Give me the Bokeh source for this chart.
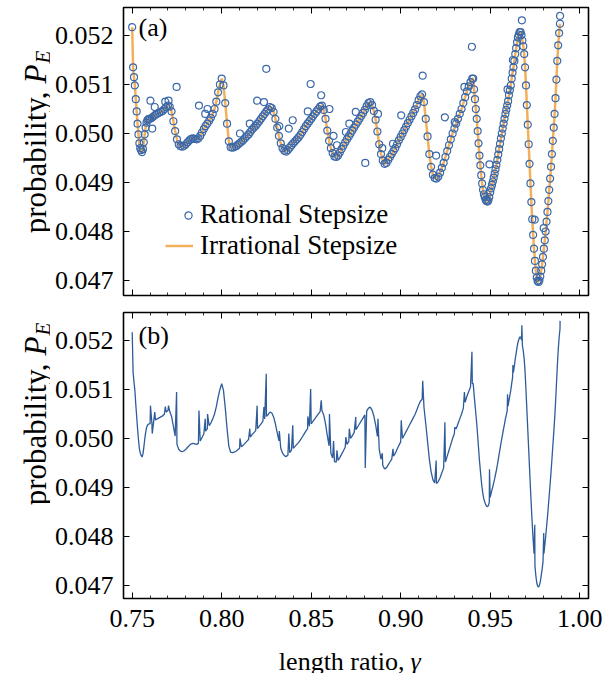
import math
from bokeh.plotting import figure
from bokeh.models import (Range1d, FixedTicker, LinearAxis, Label, Legend,
                          LegendItem, NumeralTickFormatter)
from bokeh.layouts import column, row
from bokeh.embed import file_html
from bokeh.resources import INLINE

FONT = "Liberation Serif"
FS = "26px"
BLUE = "#3B68A8"
BLUE_LINE = "#2E5C9A"
ORANGE = "#F2B05A"

# ---------------- data ----------------
x_tick_values = [0.75, 0.80, 0.85, 0.90, 0.95, 1.00]
x_tick_labels = ["0.75", "0.80", "0.85", "0.90", "0.95", "1.00"]
x_minor_ticks = [0.75, 0.76, 0.77, 0.78, 0.79, 0.80, 0.81, 0.82, 0.83, 0.84,
                 0.85, 0.86, 0.87, 0.88, 0.89, 0.90, 0.91, 0.92, 0.93, 0.94,
                 0.95, 0.96, 0.97, 0.98, 0.99, 1.00]
y_tick_values = [0.047, 0.048, 0.049, 0.050, 0.051, 0.052]
y_tick_labels = ["0.047", "0.048", "0.049", "0.050", "0.051", "0.052"]

# Irrational stepsize curve (also the dense band of the rational points)
gamma_seg_a = [0.7500, 0.7505, 0.7510, 0.7515, 0.7520, 0.7525, 0.7530, 0.7535, 0.7540, 0.7545,
               0.7550, 0.7555, 0.7560, 0.7565, 0.7570, 0.7575, 0.7580, 0.7585, 0.7590, 0.7595,
               0.7600]
pe_seg_a = [0.05217, 0.05135, 0.05115, 0.05098, 0.05070, 0.05045, 0.05020, 0.04998, 0.04980, 0.04970,
            0.04966, 0.04962, 0.04968, 0.04982, 0.04998, 0.05012, 0.05022, 0.05027, 0.05029, 0.05030,
            0.05030]

gamma_seg_b = [0.761, 0.762, 0.763, 0.764, 0.765, 0.766, 0.767, 0.768, 0.769, 0.770,
               0.771, 0.772, 0.773, 0.774, 0.775, 0.776, 0.777, 0.778, 0.779, 0.780,
               0.781, 0.782, 0.783, 0.784, 0.785, 0.786, 0.787, 0.788, 0.789, 0.790,
               0.791, 0.792, 0.793, 0.794, 0.795, 0.796, 0.797, 0.798, 0.799, 0.800,
               0.801, 0.802, 0.803, 0.804, 0.805, 0.806, 0.807, 0.808, 0.809, 0.810,
               0.811, 0.812, 0.813, 0.814, 0.815, 0.816, 0.817, 0.818, 0.819, 0.820,
               0.821, 0.822, 0.823, 0.824, 0.825, 0.826, 0.827, 0.828, 0.829, 0.830,
               0.831, 0.832, 0.833, 0.834, 0.835, 0.836, 0.837, 0.838, 0.839, 0.840,
               0.841, 0.842, 0.843, 0.844, 0.845, 0.846, 0.847, 0.848, 0.849, 0.850,
               0.851, 0.852, 0.853, 0.854, 0.855, 0.856, 0.857, 0.858, 0.859, 0.860,
               0.861, 0.862, 0.863, 0.864, 0.865, 0.866, 0.867, 0.868, 0.869, 0.870,
               0.871, 0.872, 0.873, 0.874, 0.875, 0.876, 0.877, 0.878, 0.879, 0.880,
               0.881, 0.882, 0.883, 0.884, 0.885, 0.886, 0.887, 0.888, 0.889, 0.890,
               0.891, 0.892, 0.893, 0.894, 0.895, 0.896, 0.897, 0.898, 0.899, 0.900,
               0.901, 0.902, 0.903, 0.904, 0.905, 0.906, 0.907, 0.908, 0.909, 0.910,
               0.911, 0.912, 0.913, 0.914, 0.915, 0.916, 0.917, 0.918, 0.919, 0.920,
               0.921, 0.922, 0.923, 0.924, 0.925, 0.926, 0.927, 0.928, 0.929, 0.930,
               0.931, 0.932, 0.933, 0.934, 0.935, 0.936, 0.937, 0.938, 0.939]
pe_seg_b = [0.05032, 0.05035, 0.05038, 0.05040, 0.05042, 0.05044, 0.05046, 0.05050, 0.05054, 0.05057,
            0.05055, 0.05045, 0.05025, 0.05005, 0.04988, 0.04978, 0.04974, 0.04973, 0.04975, 0.04978,
            0.04982, 0.04986, 0.04989, 0.04990, 0.04989, 0.04988, 0.04990, 0.04995, 0.05002, 0.05009,
            0.05015, 0.05020, 0.05026, 0.05032, 0.05040, 0.05050, 0.05065, 0.05084, 0.05100, 0.05112,
            0.05098, 0.05062, 0.05020, 0.04984, 0.04972, 0.04971, 0.04972, 0.04974, 0.04977, 0.04980,
            0.04983, 0.04986, 0.04990, 0.04994, 0.04998, 0.05003, 0.05008, 0.05012, 0.05016, 0.05020,
            0.05025, 0.05030, 0.05035, 0.05040, 0.05045, 0.05049, 0.05054, 0.05052, 0.05044, 0.05030,
            0.05012, 0.04995, 0.04980, 0.04970, 0.04965, 0.04963, 0.04966, 0.04971, 0.04976, 0.04980,
            0.04984, 0.04988, 0.04992, 0.04997, 0.05003, 0.05009, 0.05015, 0.05020, 0.05025, 0.05030,
            0.05035, 0.05040, 0.05045, 0.05050, 0.05055, 0.05057, 0.05048, 0.05030, 0.05006, 0.04985,
            0.04970, 0.04960, 0.04953, 0.04952, 0.04955, 0.04961, 0.04968, 0.04975, 0.04982, 0.04988,
            0.04994, 0.05000, 0.05006, 0.05012, 0.05018, 0.05024, 0.05030, 0.05036, 0.05042, 0.05048,
            0.05056, 0.05062, 0.05064, 0.05058, 0.05046, 0.05028, 0.05004, 0.04978, 0.04958, 0.04945,
            0.04938, 0.04940, 0.04946, 0.04952, 0.04958, 0.04964, 0.04970, 0.04978, 0.04986, 0.04993,
            0.05000, 0.05007, 0.05014, 0.05021, 0.05028, 0.05035, 0.05042, 0.05049, 0.05058, 0.05068,
            0.05076, 0.05080, 0.05064, 0.05030, 0.04994, 0.04958, 0.04932, 0.04916, 0.04909, 0.04908,
            0.04912, 0.04920, 0.04930, 0.04940, 0.04952, 0.04964, 0.04976, 0.04988, 0.05000, 0.05010,
            0.05020, 0.05030, 0.05040, 0.05050, 0.05062, 0.05074, 0.05086, 0.05096, 0.05105]

gamma_seg_c = [0.9400, 0.9405, 0.9410, 0.9415, 0.9420, 0.9425, 0.9430, 0.9435, 0.9440, 0.9445,
               0.9450, 0.9455, 0.9460, 0.9465, 0.9470, 0.9475, 0.9480, 0.9485, 0.9490, 0.9495,
               0.9500, 0.9505, 0.9510, 0.9515, 0.9520, 0.9525, 0.9530, 0.9535, 0.9540, 0.9545,
               0.9550, 0.9555, 0.9560, 0.9565, 0.9570, 0.9575, 0.9580, 0.9585, 0.9590, 0.9595,
               0.9600, 0.9605, 0.9610, 0.9615, 0.9620, 0.9625, 0.9630, 0.9635, 0.9640, 0.9645,
               0.9650, 0.9655, 0.9660, 0.9665, 0.9670, 0.9675, 0.9680, 0.9685, 0.9690, 0.9695,
               0.9700, 0.9705, 0.9710, 0.9715, 0.9720, 0.9725, 0.9730, 0.9735, 0.9740, 0.9745,
               0.9750, 0.9755, 0.9760, 0.9765, 0.9770, 0.9775, 0.9780, 0.9785, 0.9790, 0.9795,
               0.9800, 0.9805, 0.9810, 0.9815, 0.9820, 0.9825, 0.9830, 0.9835, 0.9840, 0.9845,
               0.9850, 0.9855, 0.9860, 0.9865, 0.9870, 0.9875, 0.9880, 0.9885, 0.9890]
pe_seg_c = [0.05112, 0.05112, 0.05090, 0.05070, 0.05050, 0.05030, 0.05005, 0.04980, 0.04955, 0.04935,
            0.04915, 0.04898, 0.04885, 0.04876, 0.04870, 0.04865, 0.04862, 0.04861, 0.04863, 0.04870,
            0.04880, 0.04888, 0.04895, 0.04902, 0.04910, 0.04918, 0.04927, 0.04936, 0.04946, 0.04957,
            0.04968, 0.04979, 0.04990, 0.05000, 0.05010, 0.05020, 0.05030, 0.05040, 0.05048, 0.05057,
            0.05066, 0.05078, 0.05088, 0.05098, 0.05112, 0.05124, 0.05135, 0.05148, 0.05162, 0.05174,
            0.05186, 0.05196, 0.05202, 0.05207, 0.05207, 0.05201, 0.05190, 0.05178, 0.05162, 0.05135,
            0.05098, 0.05058, 0.05018, 0.04978, 0.04938, 0.04898, 0.04860, 0.04825, 0.04793, 0.04765,
            0.04740, 0.04720, 0.04706, 0.04699, 0.04697, 0.04700, 0.04708, 0.04720, 0.04733, 0.04748,
            0.04765, 0.04782, 0.04800, 0.04820, 0.04840, 0.04862, 0.04885, 0.04908, 0.04932, 0.04958,
            0.04985, 0.05012, 0.05040, 0.05072, 0.05110, 0.05148, 0.05180, 0.05205, 0.05224]

# Rational stepsize points that stand apart from the band
gamma_out = [0.7602, 0.7612, 0.7626, 0.7685, 0.7703, 0.7748, 0.7873, 0.7908, 0.7921, 0.8102,
             0.8157, 0.8198, 0.8236, 0.8249, 0.8322, 0.8375, 0.8397, 0.8481, 0.8497, 0.8556,
             0.8602, 0.8625, 0.8644, 0.8694, 0.8713, 0.8749, 0.8802, 0.8873, 0.8897, 0.8957,
             0.9003, 0.9123, 0.9198, 0.9247, 0.9302, 0.9356, 0.9398, 0.9496, 0.9597, 0.9627,
             0.9677, 0.9749, 0.9799, 0.98905]
pe_out = [0.05067, 0.05010, 0.05054, 0.05065, 0.05067, 0.05095, 0.05057, 0.05040, 0.05050, 0.05000,
          0.05020, 0.05067, 0.05064, 0.05132, 0.05015, 0.05010, 0.05027, 0.05045, 0.05101, 0.05078,
          0.05050, 0.04995, 0.04976, 0.05003, 0.05020, 0.05044, 0.04940, 0.05040, 0.04970, 0.04979,
          0.05037, 0.05118, 0.04955, 0.05033, 0.05023, 0.05095, 0.05177, 0.04937, 0.05090, 0.05150,
          0.05231, 0.04824, 0.04807, 0.05240]

gamma_irr = gamma_seg_a + gamma_seg_b + gamma_seg_c
pe_irr = pe_seg_a + pe_seg_b + pe_seg_c

rational = sorted(zip(gamma_irr + gamma_out, pe_irr + pe_out))
gamma_rat = [g for g, _ in rational]
pe_rat = [v for _, v in rational]

X0, X1 = 0.74514, 1.00492
Y_TOP = 0.052571
PX_PER_UNIT = 49000.0   # 49 px per 0.001 on the y axis

LABEL_W = 50
PANEL_W = 563
FRAME_A = 288
FRAME_B = 286
YL_FS = 31  # y-label font size in px


def style_axis(ax, ticks, minor, labels, show_labels):
    ax.ticker = FixedTicker(ticks=ticks, minor_ticks=minor)
    ax.axis_line_color = None
    ax.major_tick_in = 6
    ax.major_tick_out = 0
    ax.minor_tick_in = 3
    ax.minor_tick_out = 0
    ax.major_tick_line_color = "black"
    ax.minor_tick_line_color = "black"
    ax.major_tick_line_width = 1
    ax.minor_tick_line_width = 0.8
    if show_labels:
        ax.major_label_overrides = dict(zip(ticks, labels))
        ax.major_label_text_font = FONT
        ax.major_label_text_font_size = FS
        ax.major_label_text_color = "black"
    else:
        ax.major_label_text_font_size = "1px"
        ax.major_label_text_color = None
        ax.major_label_standoff = 0


def make_panel(height, mbt, mbb, frame_h, show_x_labels):
    y0 = Y_TOP - frame_h / PX_PER_UNIT
    p = figure(width=PANEL_W, height=height, x_range=Range1d(X0, X1), y_range=Range1d(y0, Y_TOP),
               output_backend="svg", toolbar_location=None, title=None,
               min_border_left=73, min_border_right=PANEL_W - 73 - 465,
               min_border_top=mbt, min_border_bottom=mbb)
    p.xgrid.visible = False
    p.ygrid.visible = False
    p.outline_line_color = "black"
    p.outline_line_width = 1.6
    p.background_fill_color = "white"
    p.border_fill_color = "white"
    p.add_layout(LinearAxis(), "above")
    p.add_layout(LinearAxis(), "right")
    bottom, top = p.below[0], p.above[0]
    left, right = p.left[0], p.right[0]
    bottom.formatter = NumeralTickFormatter(format="0.00")
    left.formatter = NumeralTickFormatter(format="0.000")
    style_axis(bottom, x_tick_values, x_minor_ticks, x_tick_labels, show_x_labels)
    style_axis(top, x_tick_values, x_minor_ticks, x_tick_labels, False)
    style_axis(left, y_tick_values, [], y_tick_labels, True)
    style_axis(right, y_tick_values, [], y_tick_labels, False)
    left.major_label_standoff = 10
    if show_x_labels:
        bottom.major_label_standoff = 11
    return p


def text_box(width, height):
    q = figure(width=width, height=height, x_range=Range1d(0, width), y_range=Range1d(0, height),
               x_axis_type=None, y_axis_type=None, output_backend="svg", toolbar_location=None,
               title=None, min_border=0)
    q.grid.visible = False
    q.outline_line_color = None
    q.background_fill_color = "white"
    q.border_fill_color = "white"
    return q


def add_text(q, x, y, text, size, italic=False, align="left", angle=0.0):
    q.add_layout(Label(x=x, y=y, x_units="screen", y_units="screen", text=text,
                       text_font=FONT, text_font_size=size,
                       text_font_style="italic" if italic else "normal",
                       text_align=align, text_baseline="alphabetic", text_color="black",
                       angle=angle, angle_units="rad"))


def ylabel_box(height, center_from_bottom):
    q = text_box(LABEL_W, height)
    split = center_from_bottom + 52
    a = math.pi / 2
    add_text(q, 35, split, "probability,", f"{YL_FS}px", align="right", angle=a)
    add_text(q, 35, split + 8, "P", f"{YL_FS}px", italic=True, angle=a)
    add_text(q, 42, split + 28, "E", "21px", italic=True, angle=a)
    return q


# ---------------- panel (a) ----------------
HA = 7 + FRAME_A + 8
pa = make_panel(HA, 7, 8, FRAME_A, False)
r_line = pa.line(gamma_irr, pe_irr, line_color=ORANGE, line_width=2.5)
r_circ = pa.scatter(gamma_rat, pe_rat, marker="circle", size=7, fill_color=None,
                    line_color=BLUE, line_width=1.2)
pa.add_layout(Label(x=15, y=FRAME_A - 5, x_units="screen", y_units="screen", text="(a)",
                    text_font=FONT, text_font_size=FS, text_baseline="top", text_color="black"))

leg_common = dict(padding=0, margin=0, border_line_color=None, background_fill_alpha=0,
                  label_text_font=FONT, label_text_font_size="27px", label_text_color="black",
                  spacing=0)
leg1 = Legend(items=[LegendItem(label="Rational Stepsize", renderers=[r_circ])],
              location=(56, 65), glyph_width=18, glyph_height=18, label_standoff=3, **leg_common)
leg2 = Legend(items=[LegendItem(label="Irrational Stepsize", renderers=[r_line])],
              location=(42, 34), glyph_width=28, glyph_height=29, label_standoff=7, **leg_common)
pa.add_layout(leg1)
pa.add_layout(leg2)
ya = ylabel_box(HA, HA - (7 + FRAME_A / 2))

# ---------------- panel (b) ----------------
HB = 9 + FRAME_B + 40
pb = make_panel(HB, 9, 40, FRAME_B, True)
pb.line(gamma_rat, pe_rat, line_color=BLUE_LINE, line_width=1.3)
pb.add_layout(Label(x=15, y=FRAME_B - 8, x_units="screen", y_units="screen", text="(b)",
                    text_font=FONT, text_font_size=FS, text_baseline="top", text_color="black"))
yb = ylabel_box(HB, HB - (9 + FRAME_B / 2))

# ---------------- x label ----------------
XH = 673 - HA - HB
xl = text_box(LABEL_W + PANEL_W, XH)
add_text(xl, 404, 12, "length ratio,", FS, align="right")
add_text(xl, 410, 12, "γ", FS, italic=True)

layout = column(row(ya, pa), row(yb, pb), xl)
open("out.html", "w").write(file_html(layout, INLINE))
